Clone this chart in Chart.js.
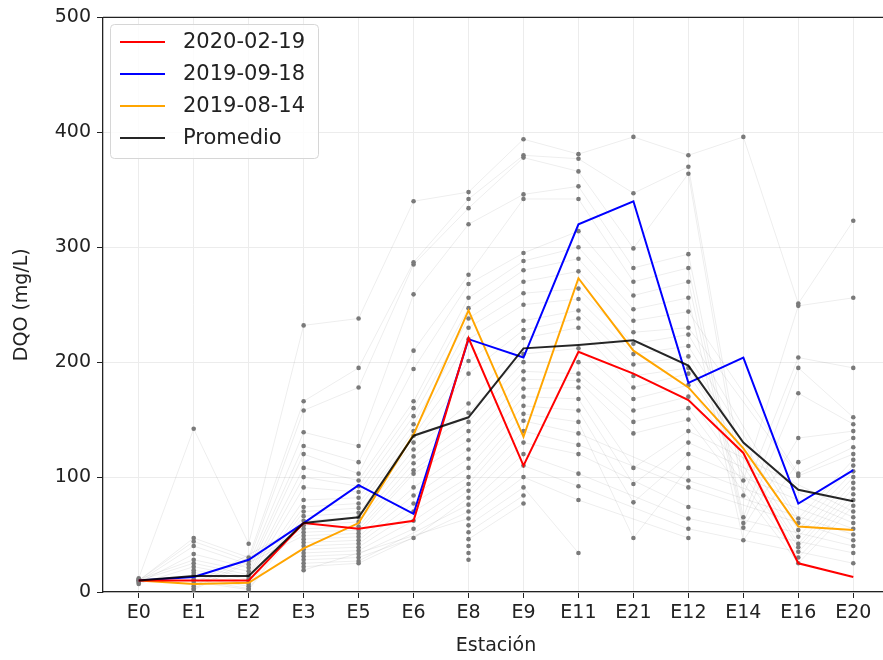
<!DOCTYPE html>
<html>
<head>
<meta charset="utf-8">
<script src="https://cdn.jsdelivr.net/npm/chart.js@4/dist/chart.umd.min.js"></script>
<style>
  html, body { margin: 0; padding: 0; background: #fff; }
  #wrap { width: 883px; height: 660px; overflow: hidden; }
</style>
</head>
<body>
<div id="wrap"><canvas id="dqo" width="900" height="660"></canvas></div>
<script>
// Estaciones de muestreo (eje X)
const estaciones = ['E0', 'E1', 'E2', 'E3', 'E5', 'E6', 'E8', 'E9', 'E11', 'E21', 'E12', 'E14', 'E16', 'E20'];
const yTicks = [0, 100, 200, 300, 400, 500];

// Campañas destacadas
const dqo20200219 = [10, 10, 10, 60, 55, 62, 221, 110, 209, 190, 167, 121, 25, 13];
const dqo20190918 = [10, 13, 28, 60, 93, 68, 220, 204, 320, 340, 182, 204, 77, 106];
const dqo20190814 = [10, 7, 8, 38, 60, 137, 245, 135, 273, 210, 178, 125, 57, 54];
const promedio    = [10, 14, 14, 60, 65, 136, 152, 212, 215, 219, 197, 130, 89, 79];

// Muestras históricas por estación (puntos grises)
const muestrasE0  = [12, 10, 10, 9, 8, 11, 10, 7];
const muestrasE1  = [142, 47, 44, 40, 33, 28, 25, 22, 19, 17, 15, 13, 11, 9, 7, 5, 3, 2];
const muestrasE2  = [42, 30, 27, 24, 21, 18, 15, 13, 11, 9, 7, 5, 3, 2];
const muestrasE3  = [232, 166, 158, 139, 127, 120, 108, 100, 91, 80, 74, 70, 66, 62, 58, 55, 52, 49, 46, 43, 40, 37, 34, 31, 28, 25, 22, 19];
const muestrasE5  = [238, 195, 178, 127, 113, 103, 97, 92, 87, 82, 77, 73, 69, 65, 61, 57, 54, 51, 48, 45, 42, 39, 36, 33, 30, 27, 25];
const muestrasE6  = [340, 287, 285, 259, 210, 194, 166, 160, 153, 146, 140, 136, 130, 124, 118, 112, 106, 103, 91, 84, 77, 70, 62, 55, 47];
const muestrasE8  = [348, 342, 334, 320, 276, 268, 256, 247, 238, 230, 220, 201, 190, 164, 156, 148, 140, 132, 124, 116, 108, 100, 94, 88, 82, 76, 70, 64, 58, 52, 46, 40, 34, 28];
const muestrasE9  = [394, 380, 378, 346, 342, 295, 288, 280, 270, 260, 250, 236, 228, 221, 207, 200, 192, 185, 177, 170, 162, 155, 149, 140, 130, 120, 110, 100, 91, 84, 77];
const muestrasE11 = [381, 377, 366, 353, 342, 314, 300, 290, 279, 264, 255, 245, 238, 230, 212, 200, 190, 184, 178, 168, 158, 148, 138, 128, 120, 103, 92, 80, 34];
const muestrasE21 = [396, 347, 299, 282, 270, 258, 246, 236, 226, 216, 207, 198, 188, 178, 168, 158, 148, 138, 108, 94, 78, 47];
const muestrasE12 = [380, 370, 364, 294, 282, 270, 256, 244, 230, 224, 214, 205, 195, 190, 180, 170, 160, 150, 140, 130, 120, 108, 97, 91, 74, 64, 55, 47];
const muestrasE14 = [396, 97, 84, 65, 60, 56, 45];
const muestrasE16 = [251, 249, 204, 195, 173, 134, 113, 103, 101, 64, 60, 54, 48, 42, 39, 35, 30, 25];
const muestrasE20 = [323, 256, 195, 152, 146, 140, 134, 126, 120, 115, 110, 105, 100, 95, 90, 85, 80, 75, 70, 65, 60, 55, 50, 45, 40, 34, 25];

const muestras = [muestrasE0, muestrasE1, muestrasE2, muestrasE3, muestrasE5, muestrasE6, muestrasE8,
                  muestrasE9, muestrasE11, muestrasE21, muestrasE12, muestrasE14, muestrasE16, muestrasE20];

const FONT = '"DejaVu Sans", sans-serif';

function toPoints(values) {
    return values.map((v, i) => ({ x: i, y: v }));
}

// Background series: i-th sample of every station, joined by a faint line
const fondo = [];
const nSeries = Math.max(...muestras.map(m => m.length));
for (let i = 0; i < nSeries; i++) {
    fondo.push({
        data: muestras.map((m, j) => ({ x: j, y: m[i] !== undefined ? m[i] : null })),
        borderColor: 'rgba(0, 0, 0, 0.07)',
        borderWidth: 1,
        pointRadius: 2.3,
        pointBackgroundColor: '#7a7a7a',
        pointBorderWidth: 0,
        spanGaps: true,
        order: 10
    });
}

const destacadas = [
    { label: '2020-02-19', data: toPoints(dqo20200219), borderColor: '#ff0000', borderWidth: 2, order: 2 },
    { label: '2019-09-18', data: toPoints(dqo20190918), borderColor: '#0000ff', borderWidth: 2, order: 3 },
    { label: '2019-08-14', data: toPoints(dqo20190814), borderColor: '#ffa500', borderWidth: 2, order: 4 },
    { label: 'Promedio',   data: toPoints(promedio),    borderColor: 'rgba(0, 0, 0, 0.85)', borderWidth: 2, order: 1 }
].map(d => Object.assign(d, { pointRadius: 0, legend: true }));

/**
 * Top spine (matplotlib frame)
 */
const topSpine = {
    id: 'topSpine',
    afterDraw(chart) {
        const { ctx, chartArea } = chart;
        ctx.save();
        ctx.strokeStyle = '#222';
        ctx.lineWidth = 1.3;
        ctx.beginPath();
        ctx.moveTo(chartArea.left, chartArea.top);
        ctx.lineTo(chartArea.right, chartArea.top);
        ctx.stroke();
        ctx.restore();
    }
};

/**
 * Legend drawn inside the plot, upper left
 */
const innerLegend = {
    id: 'innerLegend',
    afterDraw(chart) {
        const ctx = chart.ctx;
        const items = chart.data.datasets.filter(d => d.legend);
        const x = 110, y = 24, w = 208, h = 134, r = 4;
        ctx.save();
        ctx.fillStyle = 'rgba(255, 255, 255, 0.85)';
        ctx.strokeStyle = '#d6d6d6';
        ctx.lineWidth = 1;
        ctx.beginPath();
        ctx.roundRect(x + 0.5, y + 0.5, w, h, r);
        ctx.fill();
        ctx.stroke();
        ctx.font = '21px ' + FONT;
        ctx.textBaseline = 'middle';
        ctx.fillStyle = '#222';
        items.forEach((d, i) => {
            const cy = 42 + i * 32;
            ctx.strokeStyle = d.borderColor;
            ctx.lineWidth = d.borderWidth;
            ctx.beginPath();
            ctx.moveTo(120, cy);
            ctx.lineTo(165, cy);
            ctx.stroke();
            ctx.fillText(d.label, 183, cy + 1);
        });
        ctx.restore();
    }
};

new Chart(document.getElementById('dqo'), {
    type: 'line',
    data: { datasets: destacadas.concat(fondo) },
    options: {
        responsive: false,
        animation: false,
        devicePixelRatio: 1,
        layout: { padding: { top: 15, right: 11, bottom: 0, left: 0 } },
        plugins: {
            legend: { display: false },
            tooltip: { enabled: false }
        },
        scales: {
            x: {
                type: 'linear',
                min: -0.65,
                max: 13.65,
                afterBuildTicks: function(scale) {
                    scale.ticks = estaciones.map((_, i) => ({ value: i }));
                },
                afterFit: function(scale) { scale.height = 68; },
                ticks: {
                    color: '#222',
                    font: { family: FONT, size: 19 },
                    padding: 4,
                    maxRotation: 0,
                    callback: function(value) { return estaciones[value]; }
                },
                grid: { color: '#ececec', tickColor: '#222', tickLength: 6 },
                border: { color: '#222', width: 1.3 },
                title: {
                    display: true,
                    text: 'Estación',
                    color: '#222',
                    font: { family: FONT, size: 19 },
                    padding: { top: 2, bottom: 3 }
                }
            },
            y: {
                min: 0,
                max: 500,
                afterBuildTicks: function(scale) {
                    scale.ticks = yTicks.map(v => ({ value: v }));
                },
                afterFit: function(scale) { scale.width = 103; },
                ticks: {
                    color: '#222',
                    font: { family: FONT, size: 19 },
                    padding: 6
                },
                grid: { color: '#ececec', tickColor: '#222', tickLength: 6 },
                border: { color: '#222', width: 1.3 },
                title: {
                    display: true,
                    text: 'DQO (mg/L)',
                    color: '#222',
                    font: { family: FONT, size: 19 },
                    padding: { top: 11, bottom: 2 }
                }
            }
        }
    },
    plugins: [topSpine, innerLegend]
});
</script>
</body>
</html>
